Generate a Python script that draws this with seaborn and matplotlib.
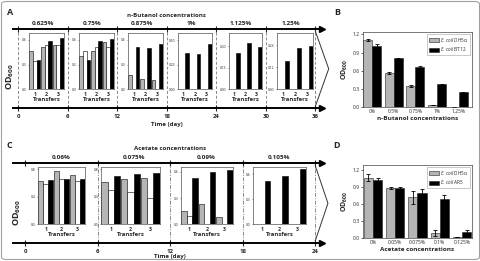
import numpy as np
import pandas as pd
import matplotlib
matplotlib.use('Agg')
import matplotlib.pyplot as plt
from matplotlib.patches import FancyBboxPatch
import seaborn as sns

W, H = 481, 261

# ---------------- data ----------------
transfers = ['1', '2', '3']
inset_series = ['gray', 'white', 'black']

# panel A: n-butanol serial transfers (OD600 per transfer)
butanol_conc = ['0.625%', '0.75%', '0.875%', '1%', '1.125%', '1.25%']
butanol_gray = [[0.47, 0.51, 0.54], [0.40, 0.47, 0.58], [0.17, 0.12, 0.11],
                [0.004, 0.004, 0.004], [0, 0, 0], [0, 0, 0]]
butanol_white = [[0.34, 0.54, 0.54], [0.47, 0.51, 0.51], [0.003, 0.003, 0.003],
                 [0, 0, 0], [0, 0, 0], [0, 0, 0]]
butanol_black = [[0.36, 0.59, 0.62], [0.36, 0.59, 0.61], [0.51, 0.50, 0.55],
                 [0.37, 0.355, 0.46], [0.25, 0.325, 0.295], [0.153, 0.223, 0.237]]
butanol_yticks = [[0, 0.3, 0.6], [0, 0.3, 0.6], [0, 0.3, 0.6],
                  [0, 0.25, 0.5], [0, 0.15, 0.3], [0, 0.12, 0.24]]
butanol_ymax = [0.68, 0.68, 0.68, 0.57, 0.39, 0.305]
butanol_days = [0, 6, 12, 18, 24, 30, 36]

# panel C: acetate serial transfers
acetate_conc = ['0.06%', '0.075%', '0.09%', '0.105%']
acetate_gray = [[0.635, 0.78, 0.713], [0.62, 0.655, 0.68], [0.157, 0.235, 0.086], [0, 0, 0]]
acetate_white = [[0.587, 0.655, 0.63], [0.50, 0.465, 0.39], [0.098, 0, 0], [0, 0, 0]]
acetate_black = [[0.645, 0.664, 0.655], [0.71, 0.727, 0.742], [0.53, 0.60, 0.627],
                 [0.524, 0.584, 0.66]]
acetate_yticks = [[0, 0.4, 0.8], [0, 0.4, 0.8], [0, 0.3, 0.6], [0, 0.3, 0.6]]
acetate_ymax = [0.84, 0.84, 0.66, 0.69]
acetate_days = [0, 6, 12, 18, 24]

# panel B: final OD600 vs n-butanol
conc_b = ['0%', '0.5%', '0.75%', '1%', '1.25%']
b_dh5a = [1.11, 0.565, 0.35, 0.038, 0.01]
b_dh5a_err = [0.02, 0.015, 0.01, 0.008, 0.003]
b_bt12 = [1.01, 0.805, 0.66, 0.378, 0.247]
b_bt12_err = [0.03, 0.015, 0.012, 0.012, 0.01]

# panel D: final OD600 vs acetate
conc_d = ['0%', '0.05%', '0.075%', '0.1%', '0.125%']
d_dh5a = [1.07, 0.88, 0.72, 0.09, 0.02]
d_dh5a_err = [0.06, 0.015, 0.12, 0.055, 0.005]
d_ar5 = [1.02, 0.88, 0.80, 0.70, 0.115]
d_ar5_err = [0.035, 0.02, 0.07, 0.06, 0.035]

GRAY = '#b5b5b5'

sns.set_theme(style='white')
plt.rcParams['font.family'] = ['Open Sans', 'DejaVu Sans']
plt.rcParams['mathtext.fontset'] = 'custom'
plt.rcParams['mathtext.rm'] = 'Open Sans'
plt.rcParams['mathtext.it'] = 'Open Sans:italic'
plt.rcParams['mathtext.bf'] = 'Open Sans:bold'

fig = plt.figure(figsize=(W / 100, H / 100), dpi=100)
fig.patches.append(FancyBboxPatch((1.5 / W, 1.5 / H), 1 - 3 / W, 1 - 3 / H,
                                  boxstyle='round,pad=0,rounding_size=0.01',
                                  transform=fig.transFigure, fill=False,
                                  edgecolor='#a0a0a0', lw=0.8))


def px_axes(x0, y0, x1, y1):
    return fig.add_axes([x0 / W, 1 - y1 / H, (x1 - x0) / W, (y1 - y0) / H])


def timeline(box, days, xlim, conc, title, ls, dividers, tip, time_y):
    ax = px_axes(*box)
    ax.set_xlim(*xlim)
    ax.set_ylim(0, 1)
    ax.set_facecolor('none')
    ax.spines['left'].set_visible(False)
    ax.spines['right'].set_visible(False)
    for s in ('top', 'bottom'):
        ax.spines[s].set_linewidth(1.4)
        ax.spines[s].set_color('black')
    for y in (0, 1):
        ax.plot([1], [y], marker='>', ms=4.5, color='black', transform=ax.transAxes,
                clip_on=False)
    ax.set_xticks(days)
    ax.set_xticklabels([str(d) for d in days], fontweight='bold')
    ax.set_yticks([])
    ax.tick_params(axis='x', direction='inout', length=4, width=0.8, top=True,
                   bottom=True, labelsize=4.3, pad=2)
    for d in dividers:
        ax.axvline(d, color='#8a8a8a', lw=0.7, ls=ls, zorder=0)
    tr = ax.get_xaxis_transform()
    ax.plot([days[-1], days[-1] + tip, days[-1]], [0.97, 0.5, 0.03], transform=tr,
            clip_on=False, color='#333333', lw=0.7)
    for i, c in enumerate(conc):
        mid = (days[i] + days[i + 1]) / 2
        ax.text(mid, 1.04, c, transform=tr, ha='center', va='bottom', fontsize=4.6,
                fontweight='bold')
    ax.text((days[0] + days[-1]) / 2, 1.18, title, transform=tr, ha='center',
            va='center', fontsize=4.4, fontweight='bold')
    ax.text((days[0] + days[-1]) / 2, time_y, 'Time (day)', transform=tr, ha='center',
            va='center', fontsize=4.4, fontweight='bold')
    return ax


def inset(box, gray, white, black, yticks, ymax, fmt):
    ax = px_axes(*box)
    df = pd.DataFrame({'transfer': transfers * 3,
                       'series': [s for s in inset_series for _ in transfers],
                       'od': list(gray) + list(white) + list(black)})
    sns.barplot(data=df, x='transfer', y='od', hue='series', hue_order=inset_series,
                order=transfers, errorbar=None,
                palette={'gray': GRAY, 'white': 'white', 'black': 'black'},
                width=0.95, edgecolor='black', linewidth=0.4, legend=False, ax=ax)
    ax.set_facecolor('white')
    ax.set_xlim(-0.5, 2.5)
    ax.set_ylim(0, ymax)
    ax.set_yticks(yticks)
    ax.set_yticklabels([fmt % t for t in yticks])
    ax.tick_params(axis='y', left=True, length=1, width=0.4, pad=0.6, labelsize=2.4)
    ax.tick_params(axis='x', length=0, pad=1.6, labelsize=3.8)
    for lbl in ax.get_xticklabels():
        lbl.set_fontweight('bold')
    ax.set_xlabel('Transfers', fontsize=4.2, fontweight='bold', labelpad=0.3)
    ax.set_ylabel('')
    for s in ax.spines.values():
        s.set_linewidth(0.5)
        s.set_color('#555555')
    return ax


def summary(box, cats, v1, e1, v2, e2, names, xlabel, ymax, xlim):
    ax = px_axes(*box)
    df = pd.DataFrame({'conc': cats * 2, 'strain': [names[0]] * len(cats) + [names[1]] * len(cats),
                       'od': v1 + v2})
    sns.barplot(data=df, x='conc', y='od', hue='strain', hue_order=names, errorbar=None,
                palette=[GRAY, 'black'], width=0.83, edgecolor='#222222', linewidth=0.4,
                ax=ax)
    for cont, err in zip(ax.containers, (e1, e2)):
        xs = [b.get_x() + b.get_width() / 2 for b in cont]
        ys = [b.get_height() for b in cont]
        ax.errorbar(xs, ys, yerr=err, fmt='none', ecolor='black', elinewidth=0.6,
                    capsize=1.3, capthick=0.6)
    ax.set_xlim(*xlim)
    ax.set_ylim(0, ymax)
    ax.set_yticks([0, 0.3, 0.6, 0.9, 1.2])
    ax.set_yticklabels(['0.0', '0.3', '0.6', '0.9', '1.2'])
    ax.tick_params(axis='y', left=True, length=1.5, width=0.5, pad=1, labelsize=3.6)
    ax.tick_params(axis='x', length=0, pad=1.5, labelsize=3.6)
    ax.set_xlabel(xlabel, fontsize=4.6, fontweight='bold', labelpad=1.5)
    ax.set_ylabel(r'$\mathbf{OD_{600}}$', fontsize=5, labelpad=2)
    for s in ax.spines.values():
        s.set_linewidth(0.5)
        s.set_color('#444444')
    ax.legend(handles=ax.legend_.legend_handles,
              labels=[r'$\it{E.\ coli}$ ' + n.split(' ')[-1] for n in names],
              loc='upper right', fontsize=3.3, frameon=True, fancybox=False,
              edgecolor='#888888', handlelength=2.2, handleheight=0.9,
              borderpad=0.35, labelspacing=0.35, handletextpad=0.3,
              borderaxespad=0.5).get_frame().set_linewidth(0.4)
    return ax


# ---------------- panel A ----------------
timeline((13.3, 29.3, 322.5, 108.3), butanol_days, (-0.6, 36.85), butanol_conc,
         'n-Butanol concentrations', (0, (3, 2)), butanol_days, 1.6, -0.21)
a_boxes = [(29, 64), (79, 114), (128, 163), (178, 212), (229, 262), (277, 313)]
for i, (x0, x1) in enumerate(a_boxes):
    inset((x0, 33.3, x1, 89.3), butanol_gray[i], butanol_white[i], butanol_black[i],
          butanol_yticks[i], butanol_ymax[i], '%.1f' if i < 3 else '%.2f')

# ---------------- panel C ----------------
timeline((13.3, 163.3, 322.5, 243.3), acetate_days, (-0.97, 24.6), acetate_conc,
         'Acetate concentrations', (0, (4, 1.5, 1, 1.5)), acetate_days[1:], 1.05, -0.165)
c_boxes = [(38, 85), (101, 160), (181, 233), (253, 306)]
for i, (x0, x1) in enumerate(c_boxes):
    inset((x0, 166.7, x1, 224.3), acetate_gray[i], acetate_white[i], acetate_black[i],
          acetate_yticks[i], acetate_ymax[i], '%.1f')

# ---------------- panels B and D ----------------
summary((363, 31.7, 472, 107.3), conc_b, b_dh5a, b_dh5a_err, b_bt12, b_bt12_err,
        ['E. coli DH5α', 'E. coli BT12'], 'n-Butanol concentrations', 1.245, (-0.415, 4.61))
summary((363, 165, 472, 238.3), conc_d, d_dh5a, d_dh5a_err, d_ar5, d_ar5_err,
        ['E. coli DH5α', 'E. coli AR5'], 'Acetate concentrations', 1.29, (-0.45, 4.45))

# axis titles and panel letters
od_kw = dict(fontsize=6.5, rotation=90, ha='center', va='center')
fig.text(10 / W, 1 - 77 / H, r'$\mathbf{OD_{600}}$', **od_kw)
fig.text(17 / W, 1 - 213 / H, r'$\mathbf{OD_{600}}$', **od_kw)
for letter, (x, y) in zip('ABCD', [(10, 12.5), (337, 12.5), (9, 145), (337, 146)]):
    fig.text(x / W, 1 - y / H, letter, fontsize=6.5, fontweight='bold',
             ha='center', va='center')

fig.savefig('out.png', dpi=100)
